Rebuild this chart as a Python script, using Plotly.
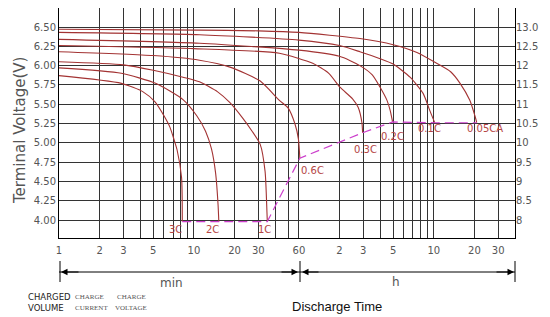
import numpy as np
import plotly.graph_objects as go

# ---------------- data (minutes, volts) ----------------
curve_names = ["0.05CA", "0.1C", "0.2C", "0.3C", "0.6C", "1C", "2C", "3C"]

t_005 = [1, 11, 30, 60, 170, 300, 450, 630, 800, 940, 1110, 1210, 1250]
v_005 = [6.47, 6.46, 6.45, 6.43, 6.35, 6.27, 6.17, 6.03, 5.92, 5.77, 5.55, 5.35, 5.26]

t_01 = [1, 11, 60, 120, 170, 240, 300, 400, 500, 560, 600, 610]
v_01 = [6.43, 6.40, 6.33, 6.26, 6.18, 6.09, 6.02, 5.85, 5.64, 5.42, 5.29, 5.26]

t_02 = [1, 11, 60, 120, 170, 210, 240, 270, 285, 297]
v_02 = [6.34, 6.29, 6.20, 6.12, 6.00, 5.88, 5.72, 5.55, 5.42, 5.27]

t_03 = [1, 10, 43, 76, 100, 121, 150, 165, 176, 178]
v_03 = [6.26, 6.22, 6.16, 6.03, 5.90, 5.72, 5.57, 5.46, 5.26, 5.13]

t_06 = [1, 5, 11, 18.5, 31, 43, 50, 56, 59.5, 61]
v_06 = [6.18, 6.13, 6.07, 5.98, 5.80, 5.55, 5.45, 5.25, 5.05, 4.80]

t_1 = [1, 3, 5, 8.3, 11, 15, 18.5, 23, 27, 31, 33.7, 34.8, 35]
v_1 = [6.05, 6.01, 5.94, 5.85, 5.79, 5.66, 5.52, 5.32, 5.15, 4.98, 4.63, 4.10, 3.98]

t_2 = [1, 2.9, 5.2, 8.3, 10.5, 12.2, 13.5, 14.5, 15.1, 15.3]
v_2 = [5.97, 5.90, 5.77, 5.56, 5.35, 5.15, 4.92, 4.60, 4.20, 3.98]

t_3 = [1, 2.9, 4.2, 5.15, 6.0, 6.65, 7.1, 7.5, 8.1, 8.2]
v_3 = [5.87, 5.77, 5.66, 5.53, 5.35, 5.20, 5.05, 4.91, 4.55, 3.98]

# final (cut-off) voltage line joining curve ends
t_end = [8.2, 15.3, 35, 61, 178, 297, 610, 1250]
v_end = [3.98, 3.98, 3.98, 4.80, 5.13, 5.27, 5.26, 5.26]

# axis ticks
x_tickvals = [1, 2, 3, 5, 10, 20, 30, 60, 120, 180, 300, 600, 1200, 1800]
x_ticktext = ["1", "2", "3", "5", "10", "20", "30", "60", "2", "3", "5", "10", "20", "30"]
x_gridvals = [2, 3, 4, 5, 6, 7, 8, 9, 10, 20, 30, 40, 50, 60,
              120, 180, 240, 300, 360, 420, 480, 540, 600, 1200, 1800]
y_tickvals = [4.00, 4.25, 4.50, 4.75, 5.00, 5.25, 5.50, 5.75, 6.00, 6.25, 6.50]
y_ticktext = ["4.00", "4.25", "4.50", "4.75", "5.00", "5.25", "5.50", "5.75", "6.00", "6.25", "6.50"]
y2_tickvals = [8, 8.5, 9, 9.5, 10, 10.5, 11, 11.5, 12, 12.5, 13]
y2_ticktext = ["8", "8.5", "9", "9.5", "10", "10.5", "11", "11.5", "12", "12.5", "13.0"]

# ---------------- figure ----------------
CURVE = "#a33333"
LABEL = "#b54545"
DASH = "#cc3fcc"
GRID = "#333333"
TICK = "#555555"

series = [(t_005, v_005), (t_01, v_01), (t_02, v_02), (t_03, v_03),
          (t_06, v_06), (t_1, v_1), (t_2, v_2), (t_3, v_3)]

fig = go.Figure()
for name, (t, v) in zip(curve_names, series):
    fig.add_trace(go.Scatter(x=t, y=v, mode="lines", name=name,
                             line=dict(color=CURVE, width=1.1, shape="spline", smoothing=0.6),
                             hoverinfo="skip"))

fig.add_trace(go.Scatter(x=t_end, y=v_end, mode="lines", name="end",
                         line=dict(color=DASH, width=1.2, dash="9px,5px"),
                         hoverinfo="skip"))
# empty trace to anchor the right axis
fig.add_trace(go.Scatter(x=[], y=[], yaxis="y2", showlegend=False, hoverinfo="skip"))

# curve labels near the end points
label_offsets = {"3C": (-7, -8), "2C": (-6, -8), "1C": (-3, -8), "0.6C": (13, -12),
                 "0.3C": (3, -17), "0.2C": (0, -15), "0.1C": (-5, -6), "0.05CA": (8, -6)}
for name, (t, v) in zip(curve_names, series):
    dx, dy = label_offsets[name]
    fig.add_annotation(x=np.log10(t[-1]), y=v[-1], xref="x", yref="y", text=name,
                       showarrow=False, xshift=dx, yshift=dy, xanchor="center", yanchor="middle",
                       font=dict(family="DejaVu Sans", size=10, color=LABEL))

# page offset (default body margin) and plot geometry, screen pixels
OFF = 8
W, H = 550, 317
L, T = 59 - OFF, 0
PW, PH = 456, 230
R, B = W - L - PW, H - T - PH


def px(xs):
    return (xs - OFF - L) / PW


def py(ys):
    return (T + PH - (ys - OFF)) / PH


def note(xs, ys, text, font, xanchor="center", angle=0):
    fig.add_annotation(xref="paper", yref="paper", x=px(xs), y=py(ys), text=text,
                       showarrow=False, xanchor=xanchor, yanchor="middle",
                       textangle=angle, font=font)


# dimension line with arrows below the axis
ya = py(272)
fig.add_shape(type="line", xref="paper", yref="paper", x0=0, x1=1, y0=ya, y1=ya,
              line=dict(color="black", width=1))
for xb in (60, 300, 515):
    fig.add_shape(type="line", xref="paper", yref="paper", x0=px(xb), x1=px(xb),
                  y0=py(261), y1=py(282), line=dict(color="black", width=1))
for head, tail in ((61, 80), (298, 280), (302, 320), (514, 495)):
    fig.add_annotation(xref="paper", yref="paper", x=px(head), y=ya, ax=tail - head, ay=0,
                       text="", showarrow=True, arrowhead=2, arrowsize=1.3, arrowwidth=1,
                       arrowcolor="black")

note(171, 283, "min", dict(family="DejaVu Sans", size=12, color=TICK))
note(396, 282, "h", dict(family="DejaVu Sans", size=12, color=TICK))
note(337, 306, "Discharge Time", dict(family="Liberation Sans", size=13, color="#111111"))

note(26, 297, "CHARGED", dict(family="DejaVu Sans", size=8.5, color="#222222"), xanchor="left")
note(26, 308, "VOLUME", dict(family="DejaVu Sans", size=8.5, color="#222222"), xanchor="left")
for xl, y_, txt in ((73, 297, "CHARGE"), (73, 308, "CURRENT"), (115, 297, "CHARGE"), (113, 308, "VOLTAGE")):
    note(xl, y_, txt, dict(family="Liberation Serif", size=7, color="#555555"), xanchor="left")

# y axis title
note(20, 131, "Terminal Voltage(V)", dict(family="DejaVu Sans", size=15, color="#555555"), angle=-90)

# value range: 6.50 V at screen y 27, 4.00 V at screen y 220
vpp = 193 / 2.5
y_hi = 6.5 + (27 - (T + OFF)) / vpp
y_lo = y_hi - PH / vpp
fig.update_layout(
    width=W, height=H,
    margin=dict(l=L, r=R, t=T, b=B, autoexpand=False),
    paper_bgcolor="white", plot_bgcolor="white",
    showlegend=False,
    xaxis=dict(type="log", range=[0, np.log10(2400)],
               tickmode="array", tickvals=x_tickvals, ticktext=x_ticktext,
               showgrid=False, ticks="", ticklabelstandoff=3,
               tickfont=dict(family="DejaVu Sans", size=10, color=TICK),
               showline=True, linecolor="black", linewidth=1, mirror=True,
               minor=dict(tickmode="array", tickvals=x_gridvals, showgrid=True,
                          gridcolor=GRID, gridwidth=1, ticks=""),
               zeroline=False),
    yaxis=dict(range=[y_lo, y_hi], tickmode="array", tickvals=y_tickvals, ticktext=y_ticktext,
               showgrid=True, gridcolor=GRID, gridwidth=1, ticks="", ticklabelstandoff=0,
               tickfont=dict(family="DejaVu Sans", size=10, color=TICK),
               showline=True, linecolor="black", linewidth=1, mirror=True, zeroline=False),
    yaxis2=dict(range=[2 * y_lo, 2 * y_hi], overlaying="y", side="right",
                tickmode="array", tickvals=y2_tickvals, ticktext=y2_ticktext,
                showgrid=False, ticks="", ticklabelstandoff=0, zeroline=False,
                tickfont=dict(family="DejaVu Sans", size=10, color=TICK)),
)

fig.write_html("out.html")
